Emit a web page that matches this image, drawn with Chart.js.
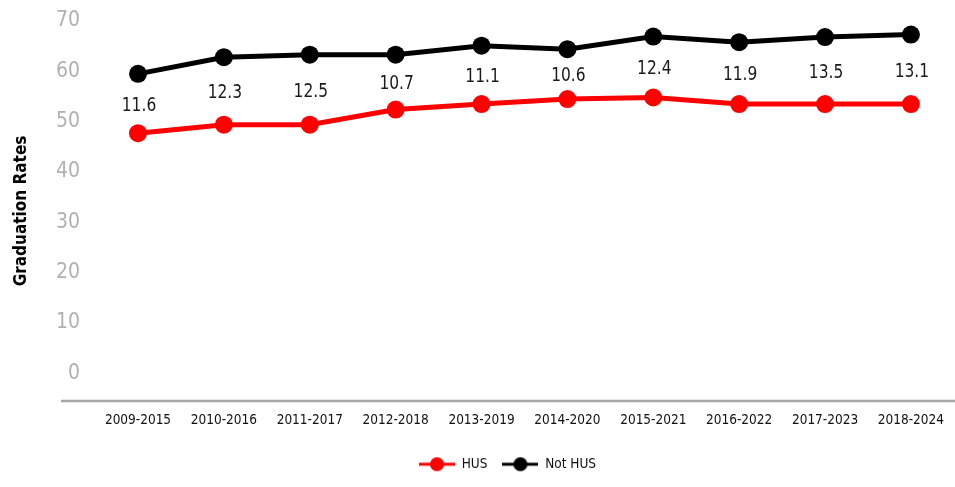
<!DOCTYPE html>
<html>
<head>
<meta charset="utf-8">
<script src="https://cdn.jsdelivr.net/npm/chart.js@4.4.1/dist/chart.umd.min.js"></script>
<style>
  html, body { margin: 0; padding: 0; background: #ffffff; }
  #wrap { width: 955px; height: 487px; position: relative; }
</style>
</head>
<body>
<div id="wrap"><canvas id="c" width="955" height="487"></canvas></div>
<script>
const categories = ['2009-2015','2010-2016','2011-2017','2012-2018','2013-2019','2014-2020','2015-2021','2016-2022','2017-2023','2018-2024'];
const husValues = [47.7, 49.4, 49.4, 52.4, 53.5, 54.5, 54.8, 53.5, 53.5, 53.5];
const notHusValues = [59.5, 62.8, 63.3, 63.3, 65.1, 64.4, 66.9, 65.8, 66.8, 67.3];
const gapLabels = ['11.6','12.3','12.5','10.7','11.1','10.6','12.4','11.9','13.5','13.1'];
const yTickValues = [0, 10, 20, 30, 40, 50, 60, 70];

const FONT = "'Liberation Sans Narrow', 'DejaVu Sans Condensed', 'Arial Narrow', sans-serif";

function legendIcon(color) {
  const cv = document.createElement('canvas');
  cv.width = 36; cv.height = 16;
  const g = cv.getContext('2d');
  g.strokeStyle = color; g.lineWidth = 3;
  g.beginPath(); g.moveTo(0, 8); g.lineTo(36, 8); g.stroke();
  g.fillStyle = color;
  g.beginPath(); g.arc(18, 8, 7, 0, Math.PI * 2); g.fill();
  return cv;
}

const extras = {
  id: 'extras',
  afterLayout(chart) {
    if (chart.legend) { chart.legend.left += 94; }
  },
  afterDatasetsDraw(chart) {
    const ctx = chart.ctx;
    const area = chart.chartArea;
    ctx.save();
    ctx.strokeStyle = '#a8a8a8';
    ctx.lineWidth = 2.5;
    ctx.beginPath();
    ctx.moveTo(61, area.bottom);
    ctx.lineTo(955, area.bottom);
    ctx.stroke();
    const red = chart.getDatasetMeta(0).data;
    const blk = chart.getDatasetMeta(1).data;
    ctx.font = '20px ' + FONT;
    ctx.fillStyle = '#1a1a1a';
    ctx.textAlign = 'center';
    ctx.textBaseline = 'middle';
    const sx = 0.86;
    for (let i = 0; i < gapLabels.length; i++) {
      const x = blk[i].x + 1;
      const y = (blk[i].y + red[i].y) / 2 + 2;
      ctx.save();
      ctx.translate(x, y);
      ctx.scale(sx, 1);
      ctx.fillText(gapLabels[i], 0, 0);
      ctx.restore();
    }
    ctx.restore();
  }
};

new Chart(document.getElementById('c'), {
  type: 'line',
  data: {
    labels: categories,
    datasets: [
      {
        label: 'HUS',
        data: husValues,
        borderColor: '#ff0000',
        backgroundColor: '#ff0000',
        borderWidth: 5,
        pointRadius: 9,
        pointHoverRadius: 9,
        pointBorderWidth: 0,
        pointBackgroundColor: '#ff0000',
        tension: 0
      },
      {
        label: 'Not HUS',
        data: notHusValues,
        borderColor: '#000000',
        backgroundColor: '#000000',
        borderWidth: 5,
        pointRadius: 9,
        pointHoverRadius: 9,
        pointBorderWidth: 0,
        pointBackgroundColor: '#000000',
        tension: 0
      }
    ]
  },
  options: {
    responsive: false,
    animation: false,
    devicePixelRatio: 1,
    layout: { padding: { left: 0, right: 34, top: 21, bottom: 6 } },
    plugins: {
      tooltip: { enabled: false },
      legend: {
        position: 'bottom',
        labels: {
          usePointStyle: true,
          pointStyleWidth: 36,
          padding: 15,
          color: '#111111',
          font: { family: FONT, size: 13.5 },
          generateLabels(chart) {
            return chart.data.datasets.map((ds, i) => ({
              text: ds.label,
              fillStyle: ds.borderColor,
              strokeStyle: ds.borderColor,
              lineWidth: 0,
              pointStyle: legendIcon(ds.borderColor),
              hidden: false,
              datasetIndex: i,
              fontColor: '#111111'
            }));
          }
        }
      }
    },
    scales: {
      x: {
        type: 'category',
        offset: false,
        grid: { display: false, drawTicks: false },
        border: { display: false },
        ticks: {
          color: '#111111',
          font: { family: FONT, size: 13.5 },
          padding: 11,
          maxRotation: 0,
          autoSkip: false
        },
        afterFit(scale) { scale.height = 41.5; }
      },
      y: {
        min: -5.5,
        max: 70,
        bounds: 'data',
        grid: { display: false, drawTicks: false },
        border: { display: false },
        ticks: {
          stepSize: 10,
          includeBounds: false,
          color: '#b0b0b0',
          font: { family: FONT, size: 21 },
          padding: 58
        },
        afterBuildTicks(scale) {
          scale.ticks = yTickValues.map(v => ({ value: v }));
        },
        title: {
          display: true,
          text: 'Graduation Rates',
          color: '#000000',
          font: { family: FONT, size: 17, weight: 'bold' },
          padding: { top: 11, bottom: 0 }
        },
        afterFit(scale) {
          scale.width = 138;
          scale.paddingTop = 12;
          scale.paddingBottom = 0;
        }
      }
    }
  },
  plugins: [extras]
});
</script>
</body>
</html>
